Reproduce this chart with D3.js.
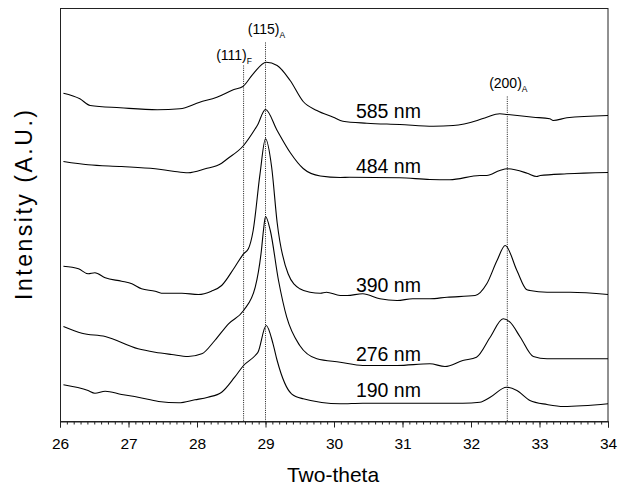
<!DOCTYPE html>
<html><head><meta charset="utf-8">
<script src="https://cdn.jsdelivr.net/npm/d3@7"></script>
<style>
body{margin:0;background:#fff}
text{font-family:"Liberation Sans",Arial,Helvetica,sans-serif;fill:#000}
</style>
</head><body>
<svg id="c" width="625" height="486"></svg>
<script>
// ---------- data ----------
const xTickValues = [26, 27, 28, 29, 30, 31, 32, 33, 34];
const sampleNames = ["585 nm", "484 nm", "390 nm", "276 nm", "190 nm"];

const tt585 = [26.05,26.29,26.44,26.88,27.42,27.75,28.04,28.29,28.53,28.67,28.82,29.01,29.17,29.36,29.55,29.75,29.99,30.13,30.48,30.96,31.45,31.74,32.09,32.23,32.42,32.53,32.91,33.15,33.20,33.40,34.00];
const i585  = [328.3,322.7,316,313.7,311.7,312.7,319.3,324.3,331.7,335,347.7,359.3,356,341,320,311,304.3,300.3,298.3,297,295.3,296,301,304.3,307.7,307,304.3,302.7,301,303.7,306];

const tt484 = [26.05,26.41,26.90,27.39,27.65,27.87,28.12,28.36,28.44,28.68,28.85,28.88,29.00,29.17,29.36,29.55,29.80,30.09,30.23,30.96,31.40,31.69,32.13,32.23,32.42,32.53,32.82,32.96,33.01,33.40,34.00];
const i484  = [260,256.7,255,252.7,250.3,248.7,252.7,258.3,262.5,276,292.7,296,312,291,269,253,245.5,244,244.3,243.7,242,241.7,246,246,251,252.7,248.3,245,246,247.7,249];

const tt390 = [26.05,26.27,26.41,26.51,26.66,26.90,27.05,27.19,27.39,27.48,27.78,28.02,28.21,28.36,28.55,28.68,28.75,28.82,28.92,29.00,29.09,29.17,29.33,29.50,29.65,29.80,29.89,30.09,30.19,30.42,30.67,30.92,31.15,31.40,31.65,32.06,32.23,32.38,32.50,32.67,32.81,32.86,33.11,33.45,34.00];
const i390  = [155.3,152.7,147.7,148.7,143.7,140.3,137.7,132.7,130.3,128.3,128.3,127,130.3,136,154.3,167.7,172.7,191,247.7,282.7,254.3,199,147.7,132.7,129.3,128.3,129.3,126,126,127.7,122.7,121,122.7,122.7,124.3,126,137.7,161,176,151,132,131,129.3,129.3,127];

const tt276 = [26.05,26.32,26.66,27.14,27.39,27.63,27.87,28.07,28.26,28.46,28.68,28.85,28.94,28.97,29.00,29.07,29.19,29.31,29.50,29.75,30.09,30.42,30.92,31.40,31.62,31.88,32.08,32.28,32.47,32.57,32.72,32.91,33.11,33.59,34.00];
const i276  = [95,88.3,85,72.7,69.3,67,65,67.7,81,97.7,111,134.3,171,191,205,191,141,104.3,76,62.7,59.3,56,56,57.7,55,61,64.3,84.3,102.7,99.3,84.3,65,62.7,62.7,62.7];

const tt190 = [26.05,26.41,26.51,26.66,26.90,27.14,27.44,27.73,27.97,28.16,28.36,28.55,28.68,28.85,28.89,29.01,29.11,29.17,29.38,29.55,30.09,30.42,30.92,31.40,31.88,32.13,32.28,32.52,32.67,32.86,33.11,33.35,34.00];
const i190  = [36.7,31,28.3,30.3,27,24.3,20,18.7,21.7,24.3,29.3,44.3,56,66,69.3,96,77.7,61,27.7,22.7,17.7,18.3,18.3,18.3,18.3,19.3,24.3,34.3,31,21,17,15,17.7];

const peakPositions = [28.68, 29.00, 32.53];
const peakNames = ["(111)", "(115)", "(200)"];
const peakPhases = ["F", "A", "A"];

// ---------- layout ----------
const svg = d3.select("#c");
const x = d3.scaleLinear().domain([26, 34]).range([60, 608]);
const y = d3.scaleLinear().domain([0, 413]).range([421.5, 8.5]);

const series = [
  {tt: tt585, it: i585},
  {tt: tt484, it: i484},
  {tt: tt390, it: i390},
  {tt: tt276, it: i276},
  {tt: tt190, it: i190}
];

// frame
svg.append("rect").attr("x", 60.5).attr("y", 8.5).attr("width", 547.5).attr("height", 413)
  .attr("fill", "none").attr("stroke", "#222").attr("stroke-width", 1);

// minor ticks
const minor = d3.range(0, 81).map(i => 26 + i * 0.1);
svg.append("g").attr("transform", "translate(0,421.5)")
  .call(d3.axisBottom(x).tickValues(minor).tickSize(3).tickFormat(""))
  .call(g => g.select(".domain").remove())
  .call(g => g.selectAll("line").attr("stroke", "#222"));

// major ticks
const xAxis = svg.append("g").attr("transform", "translate(0,421.5)")
  .call(d3.axisBottom(x).tickValues(xTickValues).tickSize(6).tickPadding(10).tickFormat(d3.format("d")));
xAxis.select(".domain").attr("stroke", "#222");
xAxis.selectAll("line").attr("stroke", "#222");
xAxis.selectAll("text").attr("font-size", 15.5).attr("fill", "#000")
  .style("font-family", '"Liberation Sans",Arial,sans-serif');

// dotted reference lines
const peakTops = [356, 379, 325];
peakPositions.forEach((p, i) => {
  svg.append("line")
    .attr("x1", x(p)).attr("x2", x(p))
    .attr("y1", y(peakTops[i])).attr("y2", y(0))
    .attr("stroke", "#000").attr("stroke-width", 0.9).attr("stroke-dasharray", "1,1.2");
});

// peak labels
const peakLabelY = [361.7, 388, 333.7];
const peakLabelDx = [-9.5, 1, 1];
peakPositions.forEach((p, i) => {
  const t = svg.append("text")
    .attr("x", x(p) + peakLabelDx[i]).attr("y", y(peakLabelY[i]))
    .attr("text-anchor", "middle").attr("font-size", 14);
  t.append("tspan").text(peakNames[i]);
  t.append("tspan").attr("font-size", 8.5).attr("dy", 4).text(peakPhases[i]);
});

// curves
const line = d3.line().x(d => x(d[0])).y(d => y(d[1])).curve(d3.curveMonotoneX);
series.forEach(s => {
  svg.append("path")
    .datum(s.tt.map((t, j) => [t, s.it[j]]))
    .attr("d", line)
    .attr("fill", "none").attr("stroke", "#000").attr("stroke-width", 1.1)
    .attr("stroke-linejoin", "round");
});

// sample labels
const labelY = [304, 248.3, 130, 60.3, 24.3];
sampleNames.forEach((n, i) => {
  svg.append("text").attr("x", x(30.32)).attr("y", y(labelY[i]))
    .attr("font-size", 19.5).text(n);
});

// axis titles
svg.append("text").attr("x", 333).attr("y", 482)
  .attr("text-anchor", "middle").attr("font-size", 21).text("Two-theta");
svg.append("text")
  .attr("transform", "translate(32,205) rotate(-90)")
  .attr("text-anchor", "middle").attr("font-size", 23)
  .attr("textLength", 190).attr("lengthAdjust", "spacing")
  .text("Intensity (A.U.)");
</script>
</body></html>
